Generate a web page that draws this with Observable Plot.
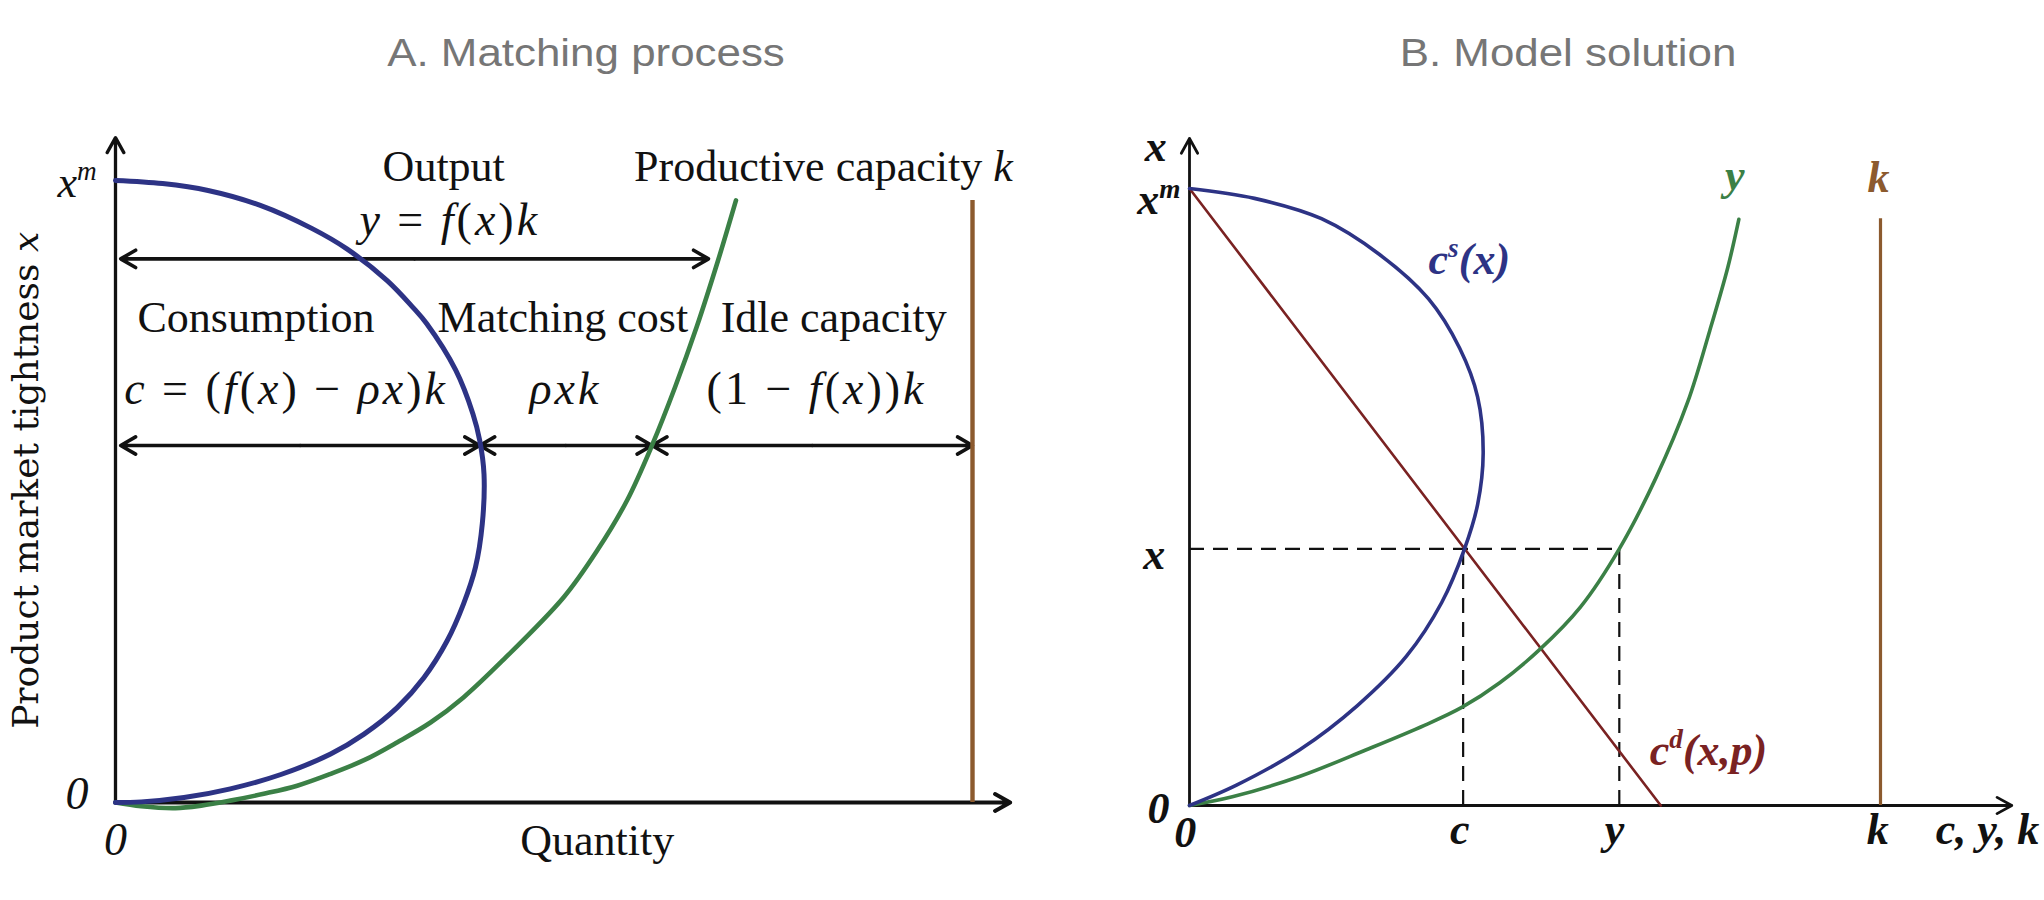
<!DOCTYPE html>
<html>
<head>
<meta charset="utf-8">
<script src="https://cdn.jsdelivr.net/npm/d3@7"></script>
<script src="https://cdn.jsdelivr.net/npm/@observablehq/plot@0.6"></script>
<style>
  html, body { margin: 0; padding: 0; background: #fff; }
  #fig { position: relative; width: 2044px; height: 900px; overflow: hidden; background: #fff; }
  .title { position: absolute; top: 34px; font-family: "Liberation Sans", Arial, sans-serif; font-size: 38px;
           line-height: 1; color: #767676; white-space: nowrap; transform: translateX(-50%) scaleX(1.155); }
  .panel { position: absolute; top: 100px; width: 1022px; height: 800px; }
</style>
</head>
<body>
<div id="fig">
  <div class="title" id="tA" style="left:586px">A. Matching process</div>
  <div class="title" id="tB" style="left:1568px">B. Model solution</div>
  <div class="panel" id="pA" style="left:0px"></div>
  <div class="panel" id="pB" style="left:1022px"></div>
</div>
<script>
// ================= DATA (quantity q, tightness t; k = 1, x^m = 1) =================
// Panel A: consumption curve c(x)
const blueA_q = [0, 0.055, 0.108, 0.169, 0.229, 0.270, 0.317, 0.347, 0.363, 0.397, 0.417, 0.425, 0.430, 0.428, 0.420, 0.406, 0.387, 0.360, 0.329, 0.290, 0.251, 0.193, 0.134, 0.080, 0.030, 0];
const blueA_t = [1, 0.995, 0.984, 0.960, 0.923, 0.890, 0.839, 0.796, 0.770, 0.695, 0.625, 0.582, 0.528, 0.448, 0.378, 0.319, 0.260, 0.201, 0.153, 0.110, 0.078, 0.045, 0.022, 0.008, 0.001, 0];
// Panel A: output curve y = f(x)k
const greenA_q = [0, 0.03, 0.07, 0.10, 0.134, 0.173, 0.212, 0.251, 0.290, 0.329, 0.368, 0.406, 0.450, 0.523, 0.562, 0.597, 0.626, 0.653, 0.678, 0.703, 0.724];
const greenA_t = [0, -0.006, -0.009, -0.005, 0.003, 0.014, 0.027, 0.046, 0.068, 0.097, 0.129, 0.169, 0.226, 0.330, 0.405, 0.486, 0.574, 0.668, 0.764, 0.871, 0.968];
// Panel A: capacity k and measuring arrows
const capacityA = {q: 1, top: 0.968};
const axisTipA = {q: 1.044, t: 1.069};
const outputArrowA = {t: 0.874, from: 0.006, to: 0.692};
const splitArrowA = {t: 0.574, cuts: [0.006, 0.425, 0.626, 1.0]};

// Panel A labels
const wordsA = ["Output", "Consumption", "Matching cost", "Idle capacity", "Quantity"];
const wordsA_q = [0.383, 0.164, 0.522, 0.838, 0.562];
const wordsA_t = [1.0, 0.756, 0.756, 0.756, -0.085];
const capLabelA = {s: "Productive capacity [k]", q: 0.826, t: 1.0};
const mathA = ["[y] = [f]([x])[k]", "[c] = ([f]([x]) − [ρx])[k]", "[ρxk]", "(1 − [f]([x]))[k]"];
const mathA_q = [0.39, 0.199, 0.525, 0.818];
const mathA_t = [0.912, 0.641, 0.641, 0.641];
const yLabelA = {s: "Product market tightness [x]", q: -0.091, t: 0.518};
const xmLabelA = {s: "x^{m}", q: -0.022, t: 0.973};
const zeroA = [{s: "0", q: -0.0315, t: -0.01, a: "end"}, {s: "0", q: 0, t: -0.085, a: "middle"}];

// Panel B: supply c^s(x), output y, demand c^d(x,p)
const blueB_q = [0, 0.094, 0.191, 0.275, 0.346, 0.391, 0.417, 0.425, 0.417, 0.398, 0.365, 0.314, 0.243, 0.159, 0.068, 0];
const blueB_t = [1, 0.984, 0.951, 0.893, 0.821, 0.741, 0.662, 0.571, 0.488, 0.416, 0.329, 0.242, 0.162, 0.090, 0.033, 0];
const greenB_q = [0, 0.062, 0.159, 0.255, 0.340, 0.394, 0.449, 0.507, 0.566, 0.622, 0.675, 0.721, 0.753, 0.779, 0.795];
const greenB_t = [0, 0.014, 0.047, 0.090, 0.130, 0.159, 0.199, 0.253, 0.322, 0.416, 0.531, 0.654, 0.770, 0.872, 0.950];
const redB_q = [0, 0.682];
const redB_t = [1, 0];
const capacityB = {q: 1, top: 0.951};
const axisTipB = {q: 1.19, t: 1.081};
const equilibrium = {t: 0.416, c: 0.396, y: 0.622};

// Panel B labels
const labelsB = ["x", "x^{m}", "x", "0", "0", "c", "y", "k", "c, y, k"];
const labelsB_q = [-0.049, -0.013, -0.035, -0.029, -0.006, 0.391, 0.615, 0.996, 1.08];
const labelsB_t = [1.045, 0.958, 0.384, -0.029, -0.068, -0.062, -0.062, -0.062, -0.062];
const labelsB_anchor = ["middle", "end", "end", "end", "middle", "middle", "middle", "middle", "start"];
const curveLabelsB = ["c^{s}(x)", "y", "k", "c^{d}(x,p)"];
const curveLabelsB_q = [0.346, 0.789, 0.997, 0.666];
const curveLabelsB_t = [0.862, 0.997, 0.994, 0.065];
const curveLabelsB_anchor = ["start", "middle", "middle", "start"];

// ================= STYLE =================
const NAVY = "#2d3385", GREEN = "#3b8046", BROWN = "#8c5a2e", RED = "#7a2222";
const SERIF = "Liberation Serif, Times New Roman, serif";
const curveColorsB = [NAVY, GREEN, BROWN, RED];

const pts = (qs, ts) => qs.map((q, i) => ({q, t: ts[i]}));
const dbl = (t, cuts) => cuts.slice(1).flatMap((b, i) => {
  const a = cuts[i], m = (a + b) / 2;
  return [{x1: m, x2: a, t}, {x1: m, x2: b, t}];
});

// ================= PANEL A =================
const plotA = Plot.plot({
  width: 1022, height: 800,
  marginLeft: 115, marginRight: 50, marginTop: 80, marginBottom: 98,
  x: {domain: [0, 1], axis: null},
  y: {domain: [0, 1], axis: null},
  style: {background: "transparent", overflow: "visible"},
  marks: [
    Plot.arrow([{x1: 0, y1: 0, x2: 0, y2: axisTipA.t}], {x1: "x1", y1: "y1", x2: "x2", y2: "y2",
      stroke: "#111", strokeWidth: 3.3, headLength: 7.8, headAngle: 58}),
    Plot.arrow([{x1: 0, y1: 0, x2: axisTipA.q, y2: 0}], {x1: "x1", y1: "y1", x2: "x2", y2: "y2",
      stroke: "#111", strokeWidth: 4, headLength: 6.5, headAngle: 58}),
    Plot.arrow(dbl(outputArrowA.t, [outputArrowA.from, outputArrowA.to]),
      {x1: "x1", x2: "x2", y1: "t", y2: "t", stroke: "#111", strokeWidth: 3.6, headLength: 7.2, headAngle: 60}),
    Plot.arrow(dbl(splitArrowA.t, splitArrowA.cuts),
      {x1: "x1", x2: "x2", y1: "t", y2: "t", stroke: "#111", strokeWidth: 3.6, headLength: 7.2, headAngle: 60}),
    Plot.ruleX([capacityA], {x: "q", y1: 0, y2: "top", stroke: BROWN, strokeWidth: 4.4}),
    Plot.line(pts(greenA_q, greenA_t), {x: "q", y: "t", stroke: GREEN, strokeWidth: 4.6, curve: "catmull-rom"}),
    Plot.line(pts(blueA_q, blueA_t), {x: "q", y: "t", stroke: NAVY, strokeWidth: 5, curve: "catmull-rom"}),
    Plot.text(pts(wordsA_q, wordsA_t).map((d, i) => ({...d, s: wordsA[i]})),
      {x: "q", y: "t", text: "s", fontFamily: SERIF, fontSize: 44, textAnchor: "middle", lineAnchor: "bottom", fill: "#111"}),
    Plot.text([capLabelA], {x: "q", y: "t", text: "s", fontFamily: SERIF, fontSize: 44, textAnchor: "middle", lineAnchor: "bottom", fill: "#111"}),
    Plot.text(pts(mathA_q, mathA_t).map((d, i) => ({...d, s: mathA[i]})),
      {x: "q", y: "t", text: "s", fontFamily: SERIF, fontSize: 46, textAnchor: "middle", lineAnchor: "bottom", fill: "#111", className: "math"}),
    Plot.text([yLabelA], {x: "q", y: "t", text: "s", rotate: -90, fontFamily: "DejaVu Serif, serif", fontSize: 36,
      textAnchor: "middle", lineAnchor: "bottom", fill: "#111"}),
    Plot.text([xmLabelA], {x: "q", y: "t", text: "s", fontFamily: SERIF, fontStyle: "italic", fontSize: 44,
      textAnchor: "end", lineAnchor: "bottom", fill: "#111"}),
    ...zeroA.map(d => Plot.text([d], {x: "q", y: "t", text: "s", textAnchor: d.a, fontFamily: SERIF, fontStyle: "italic",
      fontSize: 46, lineAnchor: "bottom", fill: "#111"}))
  ]
});

// ================= PANEL B =================
const eqH = [{t: equilibrium.t, q1: 0, q2: equilibrium.y}];
const eqV = [{q: equilibrium.c, t2: equilibrium.t}, {q: equilibrium.y, t2: equilibrium.t}];
const bLabels = labelsB.map((s, i) => ({s, q: labelsB_q[i], t: labelsB_t[i], a: labelsB_anchor[i], c: "#111"}));
const cLabels = curveLabelsB.map((s, i) => ({s, q: curveLabelsB_q[i], t: curveLabelsB_t[i], a: curveLabelsB_anchor[i], c: curveColorsB[i]}));

const plotB = Plot.plot({
  width: 1022, height: 800,
  marginLeft: 167, marginRight: 164, marginTop: 88, marginBottom: 95,
  x: {domain: [0, 1], axis: null},
  y: {domain: [0, 1], axis: null},
  style: {background: "transparent", overflow: "visible"},
  marks: [
    Plot.ruleY(eqH, {y: "t", x1: "q1", x2: "q2", stroke: "#111", strokeWidth: 2.2, strokeDasharray: "15,9"}),
    Plot.ruleX(eqV, {x: "q", y1: 0, y2: "t2", stroke: "#111", strokeWidth: 2.2, strokeDasharray: "15,9"}),
    Plot.arrow([{x1: 0, y1: 0, x2: 0, y2: axisTipB.t}, {x1: 0, y1: 0, x2: axisTipB.q, y2: 0}],
      {x1: "x1", y1: "y1", x2: "x2", y2: "y2", stroke: "#111", strokeWidth: 2.8, headLength: 9, headAngle: 58}),
    Plot.ruleX([capacityB], {x: "q", y1: 0, y2: "top", stroke: BROWN, strokeWidth: 3.2}),
    Plot.line(pts(redB_q, redB_t), {x: "q", y: "t", stroke: RED, strokeWidth: 2.6}),
    Plot.line(pts(greenB_q, greenB_t), {x: "q", y: "t", stroke: GREEN, strokeWidth: 3.6, curve: "catmull-rom"}),
    Plot.line(pts(blueB_q, blueB_t), {x: "q", y: "t", stroke: NAVY, strokeWidth: 3.6, curve: "catmull-rom"}),
    ...[...bLabels, ...cLabels].map(d => Plot.text([d], {x: "q", y: "t", text: "s", textAnchor: d.a, fill: d.c,
      fontFamily: SERIF, fontStyle: "italic", fontWeight: "bold", fontSize: 44, lineAnchor: "bottom"}))
  ]
});

// rich text: [..] italic, ^{..} superscript
function rich(root) {
  const NS = "http://www.w3.org/2000/svg";
  root.querySelectorAll("text").forEach(el => {
    const s = el.textContent;
    if (!/[\[\^]/.test(s)) return;
    el.textContent = "";
    const re = /\[([^\]]*)\]|\^\{([^}]*)\}|([^\[\^]+)/g;
    let m, raised = false;
    while ((m = re.exec(s))) {
      const ts = document.createElementNS(NS, "tspan");
      if (m[2] !== undefined) {
        ts.textContent = m[2];
        ts.style.fontSize = "62%";
        ts.setAttribute("dy", "-0.62em");
        raised = true;
        el.appendChild(ts);
        continue;
      }
      if (m[1] !== undefined) { ts.textContent = m[1]; ts.setAttribute("font-style", "italic"); }
      else ts.textContent = m[3];
      if (raised) { ts.setAttribute("dy", "0.385em"); raised = false; }
      el.appendChild(ts);
    }
  });
}

document.getElementById("pA").appendChild(plotA);
document.getElementById("pB").appendChild(plotB);
rich(plotA); rich(plotB);
plotA.querySelectorAll(".math text").forEach(t => t.style.letterSpacing = "3px");
</script>
</body>
</html>
